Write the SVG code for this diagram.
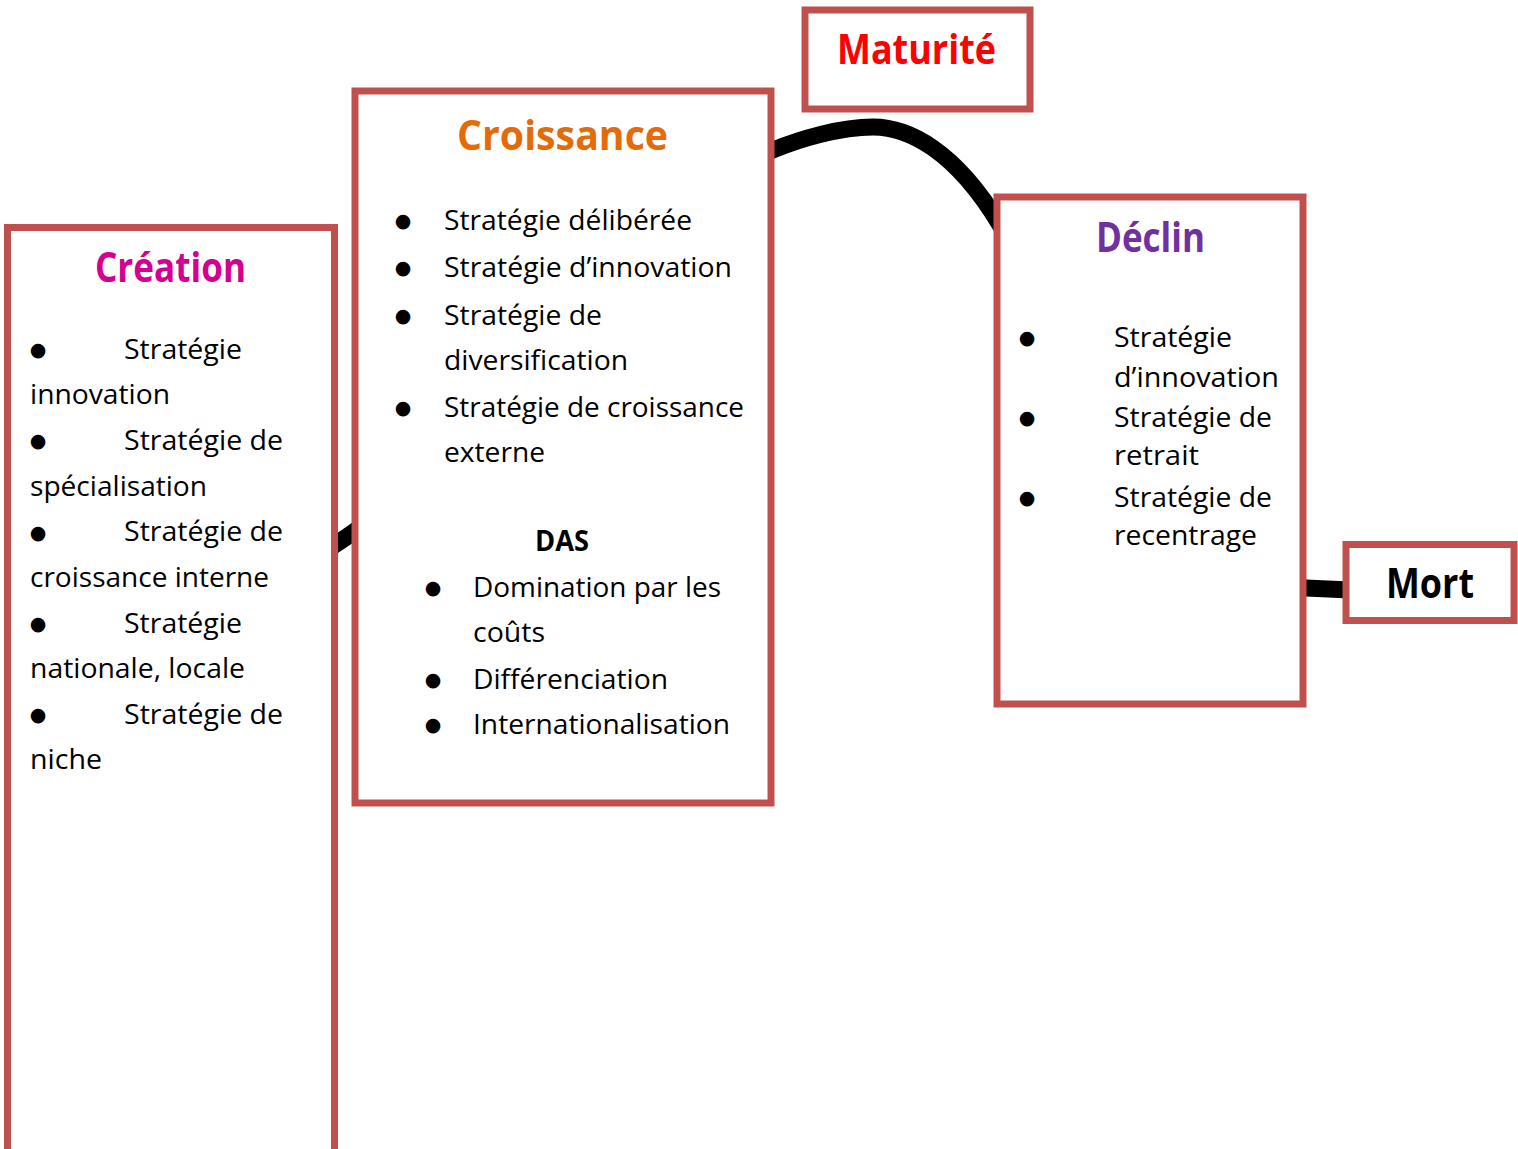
<svg xmlns="http://www.w3.org/2000/svg" width="1518" height="1149" viewBox="0 0 1518 1149">
<style>
.box{fill:#fff;stroke:#C0504D;stroke-width:7}
.t{font-family:"Open Sans","Liberation Sans",sans-serif;font-size:28px;fill:#000}
.b{font-family:"DejaVu Sans",sans-serif;font-size:19px;fill:#000;text-anchor:middle}
.h{font-family:"Open Sans","Liberation Sans",sans-serif;font-weight:bold;font-size:41px;text-anchor:middle}
.conn{fill:none;stroke:#000;stroke-width:17}
</style>
<rect width="1518" height="1149" fill="#fff"/>
<g id="connectors">
<path class="conn" d="M 330 548 C 500 440 650 200 773 150 C 800 139 840 127 873 127 C 908 127 955 150 1000 225 C 1100 380 1250 588 1306 588 L 1350 590"/>
</g>
<g id="creation">
<rect class="box" x="7.5" y="227.5" width="327" height="1000"/>
<text class="h" x="170.5" y="282" fill="#D4008F" textLength="151" lengthAdjust="spacingAndGlyphs">Création</text>
<text class="b" x="38" y="356">●</text>
<text class="t" x="124" y="359" textLength="118" lengthAdjust="spacingAndGlyphs">Stratégie</text>
<text class="t" x="30" y="404" textLength="140" lengthAdjust="spacingAndGlyphs">innovation</text>
<text class="b" x="38" y="447">●</text>
<text class="t" x="124" y="450" textLength="159" lengthAdjust="spacingAndGlyphs">Stratégie de</text>
<text class="t" x="30" y="495.5" textLength="177" lengthAdjust="spacingAndGlyphs">spécialisation</text>
<text class="b" x="38" y="538.5">●</text>
<text class="t" x="124" y="541" textLength="159" lengthAdjust="spacingAndGlyphs">Stratégie de</text>
<text class="t" x="30" y="586.5" textLength="239" lengthAdjust="spacingAndGlyphs">croissance interne</text>
<text class="b" x="38" y="630">●</text>
<text class="t" x="124" y="632.5" textLength="118" lengthAdjust="spacingAndGlyphs">Stratégie</text>
<text class="t" x="30" y="678" textLength="215" lengthAdjust="spacingAndGlyphs">nationale, locale</text>
<text class="b" x="38" y="721">●</text>
<text class="t" x="124" y="723.5" textLength="159" lengthAdjust="spacingAndGlyphs">Stratégie de</text>
<text class="t" x="30" y="769" textLength="72" lengthAdjust="spacingAndGlyphs">niche</text>
</g>
<g id="croissance">
<rect class="box" x="355" y="91" width="416" height="712"/>
<text class="h" x="562.5" y="150" fill="#E36C09" font-size="44" textLength="211" lengthAdjust="spacingAndGlyphs">Croissance</text>
<text class="b" x="403" y="227">●</text>
<text class="t" x="444" y="230" textLength="248" lengthAdjust="spacingAndGlyphs">Stratégie délibérée</text>
<text class="b" x="403" y="274">●</text>
<text class="t" x="444" y="277" textLength="288" lengthAdjust="spacingAndGlyphs">Stratégie d’innovation</text>
<text class="b" x="403" y="322">●</text>
<text class="t" x="444" y="325" textLength="158" lengthAdjust="spacingAndGlyphs">Stratégie de</text>
<text class="t" x="444" y="370" textLength="184" lengthAdjust="spacingAndGlyphs">diversification</text>
<text class="b" x="403" y="413.5">●</text>
<text class="t" x="444" y="416.5" textLength="300" lengthAdjust="spacingAndGlyphs">Stratégie de croissance</text>
<text class="t" x="444" y="461.5" textLength="101" lengthAdjust="spacingAndGlyphs">externe</text>
<text class="t" x="562" y="551" font-weight="bold" text-anchor="middle" textLength="54" lengthAdjust="spacingAndGlyphs">DAS</text>
<text class="b" x="433" y="594">●</text>
<text class="t" x="473" y="597" textLength="248" lengthAdjust="spacingAndGlyphs">Domination par les</text>
<text class="t" x="473" y="642" textLength="72" lengthAdjust="spacingAndGlyphs">coûts</text>
<text class="b" x="433" y="685.5">●</text>
<text class="t" x="473" y="688.5" textLength="195" lengthAdjust="spacingAndGlyphs">Différenciation</text>
<text class="b" x="433" y="731">●</text>
<text class="t" x="473" y="734" textLength="257" lengthAdjust="spacingAndGlyphs">Internationalisation</text>
</g>
<g id="maturite">
<rect class="box" x="805" y="10" width="225" height="99"/>
<text class="h" x="916.5" y="64" fill="#FF0000" textLength="159" lengthAdjust="spacingAndGlyphs">Maturité</text>
</g>
<g id="declin">
<rect class="box" x="997" y="197" width="306" height="507"/>
<text class="h" x="1150.5" y="251.5" fill="#7030A0" textLength="109" lengthAdjust="spacingAndGlyphs">Déclin</text>
<text class="b" x="1027" y="344">●</text>
<text class="t" x="1114" y="347" textLength="118" lengthAdjust="spacingAndGlyphs">Stratégie</text>
<text class="t" x="1114" y="386.5" textLength="165" lengthAdjust="spacingAndGlyphs">d’innovation</text>
<text class="b" x="1027" y="423.5">●</text>
<text class="t" x="1114" y="426.5" textLength="158" lengthAdjust="spacingAndGlyphs">Stratégie de</text>
<text class="t" x="1114" y="465" textLength="85" lengthAdjust="spacingAndGlyphs">retrait</text>
<text class="b" x="1027" y="503.5">●</text>
<text class="t" x="1114" y="506.5" textLength="158" lengthAdjust="spacingAndGlyphs">Stratégie de</text>
<text class="t" x="1114" y="545" textLength="143" lengthAdjust="spacingAndGlyphs">recentrage</text>
</g>
<g id="mort">
<rect class="box" x="1346" y="544.5" width="168" height="76"/>
<text class="h" x="1430" y="598" fill="#000" textLength="88" lengthAdjust="spacingAndGlyphs">Mort</text>
</g>
</svg>
